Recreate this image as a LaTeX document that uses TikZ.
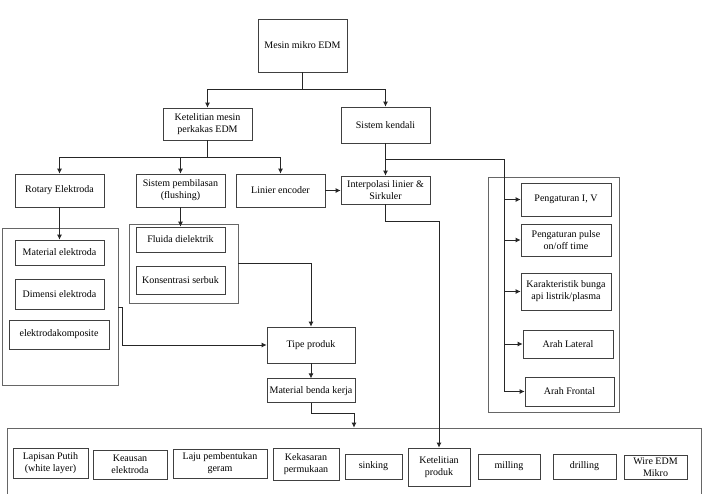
\documentclass[tikz,border=0pt]{standalone}
\usepackage{fontspec}
\setmainfont{Liberation Serif}
\usetikzlibrary{arrows.meta,positioning}
\tikzset{
  box/.style    = {rectangle, draw=black!75, line width=0.8pt, fill=white,
                   align=center, inner sep=1pt,
                   font=\fontsize{10}{12}\selectfont},
  grpbox/.style = {rectangle, draw=black!60, line width=0.8pt, inner sep=0pt},
  arr/.style    = {-{Latex[length=5pt,width=5pt]}, line width=0.8pt, draw=black!85},
  ln/.style     = {line width=0.8pt, draw=black!85},
}
\begin{document}
\begin{tikzpicture}[x=1pt, y=-1pt]
\useasboundingbox (0,0) rectangle (707,493);

%% -- group frames --------------------------------------------
\node[grpbox, minimum width=116, minimum height=157] (leftgrp)  at (60,306.5)  {};
\node[grpbox, minimum width=109, minimum height=79]  (midgrp)   at (183.5,263.5) {};
\node[grpbox, minimum width=131, minimum height=235] (rightgrp) at (553.5,294.5) {};
\node[grpbox, minimum width=694, minimum height=80]  (botgrp)   at (354,468)   {};

%% -- top levels ----------------------------------------------
\node[box, minimum width=89, minimum height=53] (mesin)    at (302.5,45.5) {Mesin mikro EDM};
\node[box, minimum width=89, minimum height=32] (ketmesin) at (207.5,124)  {Ketelitian mesin\\perkakas EDM};
\node[box, minimum width=89, minimum height=36] (kendali)  at (385.5,125)  {Sistem kendali};

%% -- second row ----------------------------------------------
\node[box, minimum width=89, minimum height=33] (rotary)  at (59.5,190.5)  {Rotary Elektroda};
\node[box, minimum width=89, minimum height=33] (bilas)   at (180.5,190.5) {Sistem pembilasan\\(flushing)};
\node[box, minimum width=89, minimum height=33] (encoder) at (280.5,190.5) {Linier encoder};
\node[box, minimum width=89, minimum height=28] (interp)  at (385.5,190)   {Interpolasi linier \&\\Sirkuler};

%% -- left group ----------------------------------------------
\node[box, minimum width=89,  minimum height=25] (matel)    at (59.5,252.5) {Material elektroda};
\node[box, minimum width=89,  minimum height=30] (dimel)    at (59.5,294)   {Dimensi elektroda};
\node[box, minimum width=100, minimum height=29] (komposit) at (59,334.5)   {elektrodakomposite};

%% -- middle group --------------------------------------------
\node[box, minimum width=89, minimum height=25] (fluida) at (180.5,239.5) {Fluida dielektrik};
\node[box, minimum width=89, minimum height=28] (serbuk) at (180.5,280)   {Konsentrasi serbuk};

%% -- product -------------------------------------------------
\node[box, minimum width=88, minimum height=36] (tipe)  at (311,345) {Tipe produk};
\node[box, minimum width=88, minimum height=24, below=15pt of tipe] (benda) {Material benda kerja};

%% -- right group ---------------------------------------------
\node[box, minimum width=90, minimum height=33] (arus)    at (566,199.5) {Pengaturan I, V};
\node[box, minimum width=90, minimum height=32] (pulse)   at (566,240)   {Pengaturan pulse\\on/off time};
\node[box, minimum width=90, minimum height=37] (bunga)   at (566,291.5) {Karakteristik bunga\\api listrik/plasma};
\node[box, minimum width=90, minimum height=28] (lateral) at (568,344)   {Arah Lateral};
\node[box, minimum width=89, minimum height=29] (frontal) at (569.5,391.5) {Arah Frontal};

%% -- bottom row ----------------------------------------------
\node[box, minimum width=75, minimum height=30] (putih)    at (50.5,463)   {Lapisan Putih\\(white layer)};
\node[box, minimum width=74, minimum height=29] (keausan)  at (130,464.5)  {Keausan\\elektroda};
\node[box, minimum width=94, minimum height=29] (laju)     at (220,463.5)  {Laju pembentukan\\geram};
\node[box, minimum width=66, minimum height=32] (kasar)    at (306,464)    {Kekasaran\\permukaan};
\node[box, minimum width=57, minimum height=25] (sinking)  at (373.5,466.5) {sinking};
\node[box, minimum width=62, minimum height=38] (ketprod)  at (439,467)    {Ketelitian\\produk};
\node[box, minimum width=62, minimum height=25] (milling)  at (509,466.5)  {milling};
\node[box, minimum width=63, minimum height=25] (drilling) at (584.5,466.5) {drilling};
\node[box, minimum width=63, minimum height=24] (wire)     at (655.5,467)  {Wire EDM\\Mikro};

\coordinate (spine) at (504,159);

%% -- arrows: top tree ----------------------------------------
\draw[arr] (mesin.south) -- ++(0,17) -| (ketmesin.north);
\draw[arr] (mesin.south) -- ++(0,17) -| (kendali.north);
\draw[arr] (ketmesin.south) -- ++(0,17) -| (rotary.north);
\draw[arr] (ketmesin.south) -- ++(0,17) -| (bilas.north);
\draw[arr] (ketmesin.south) -- ++(0,17) -| (encoder.north);
\draw[arr] (encoder.east) -- (encoder.east -| interp.west);
\draw[arr] (kendali.south) -- (interp.north);

%% -- arrows: sistem kendali -> right group -------------------
\draw[ln] (kendali.south |- spine) -- (spine) -- (spine |- frontal.west);
\draw[arr] (spine |- arus.west)    -- (arus.west);
\draw[arr] (spine |- pulse.west)   -- (pulse.west);
\draw[arr] (spine |- bunga.west)   -- (bunga.west);
\draw[arr] (spine |- lateral.west) -- (lateral.west);
\draw[arr] (spine |- frontal.west) -- (frontal.west);

%% -- arrows: into groups -------------------------------------
\draw[arr] (rotary.south) -- (matel.north);
\draw[arr] (bilas.south)  -- (fluida.north);

%% -- arrows: groups -> product -------------------------------
\draw[arr] (leftgrp.east |- 0,307) -- ++(4,0) |- (tipe.west);
\draw[arr] (midgrp.east) -| (tipe.north);
\draw[arr] (tipe.south) -- (benda.north);
\draw[arr] (benda.south) -- ++(0,10) -| (botgrp.north);
\draw[arr] (interp.south) -- ++(0,17) -| (ketprod.north);

\end{tikzpicture}
\end{document}
